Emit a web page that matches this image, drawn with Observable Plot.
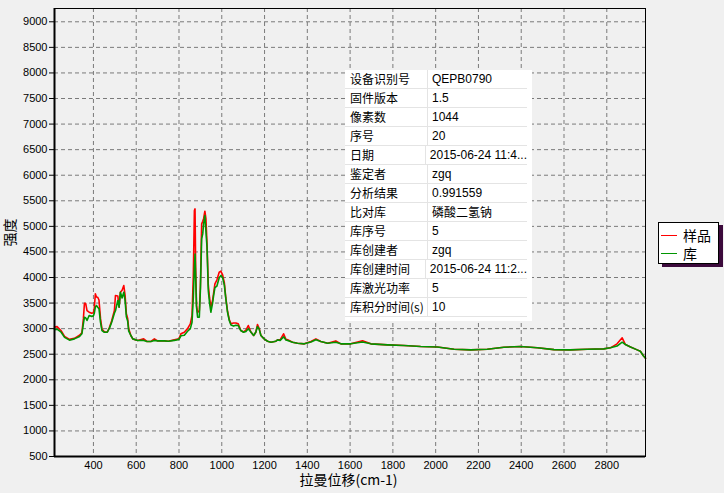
<!DOCTYPE html>
<html><head><meta charset="utf-8">
<script src="https://cdn.jsdelivr.net/npm/d3@7"></script>
<script src="https://cdn.jsdelivr.net/npm/@observablehq/plot@0.6"></script>
<style>
html,body{margin:0;padding:0;background:#f0f0f0;}
body{width:724px;height:493px;overflow:hidden;position:relative;font-family:"Liberation Sans",Arial,sans-serif;}
#chart{position:absolute;left:0;top:0;}
#info{position:absolute;left:345px;top:70px;width:187px;height:251px;background:#fff;}
#info .row{display:flex;height:19px;box-sizing:border-box;border-bottom:1px solid #e4e4e4;width:182px;}
#info .k{width:83px;box-sizing:border-box;border-right:1px solid #e4e4e4;padding-left:5px;font-family:"Noto Sans CJK SC",sans-serif;font-size:12px;line-height:18px;color:#000;white-space:nowrap;}
#info .v{padding-left:4px;font-family:"Liberation Sans","Noto Sans CJK SC",sans-serif;font-size:12px;line-height:18px;color:#000;white-space:nowrap;}
#info .v.cjk{font-family:"Noto Sans CJK SC",sans-serif;}
#legend{position:absolute;left:658px;top:222px;width:59px;height:40px;background:#fff;border:1px solid #000;box-shadow:4px 3px 0 #3c0a3c;}
#legend .it{position:absolute;left:0;height:18px;display:flex;align-items:center;}
#legend .ln{width:16px;height:1px;margin-left:2px;margin-right:6px;}
#legend .tx{font-family:"Noto Sans CJK SC",sans-serif;font-size:14px;line-height:18px;color:#000;}
</style>
</head><body>
<div id="chart"></div>
<div id="info"></div>
<div id="legend"></div>
<script>
// ---- data ----
const wavenumber = [
  218, 230, 249, 265, 288, 311, 335, 346, 353, 358,
  364, 370, 380, 392, 400, 404, 409, 414, 420, 426,
  433, 440, 451, 465, 475, 485, 498, 503, 514, 520,
  526, 534, 542, 548, 554, 560, 565, 575, 584, 607,
  635, 650, 669, 685, 700, 731, 750, 778, 800, 809,
  825, 840, 853, 861, 867, 872, 875, 878, 882, 887,
  895, 900, 906, 911, 915, 921, 926, 931, 937, 943,
  949, 957, 962, 968, 977, 988, 996, 1004, 1012, 1019,
  1027, 1035, 1043, 1055, 1066, 1077, 1089, 1102, 1113, 1124,
  1136, 1149, 1159, 1167, 1175, 1183, 1198, 1214, 1230, 1253,
  1261, 1273, 1289, 1300, 1308, 1331, 1354, 1386, 1417, 1440,
  1463, 1495, 1533, 1557, 1603, 1658, 1697, 1775, 1852, 1930,
  2008, 2086, 2164, 2241, 2319, 2397, 2475, 2553, 2630, 2708,
  2786, 2817, 2848, 2872, 2887, 2911, 2942, 2957, 2970, 2981
];
const sampleIntensity = [ // 样品 (red)
  3030, 3040, 2960, 2850, 2790, 2810, 2870, 2920, 3190, 3497,
  3490, 3354, 3322, 3300, 3310, 3400, 3680, 3620, 3614, 3560,
  3200, 2990, 2940, 2935, 3028, 3150, 3354, 3647, 3640, 3420,
  3712, 3750, 3843, 3650, 3290, 3200, 2996, 2866, 2800, 2768,
  2800, 2750, 2750, 2800, 2760, 2760, 2754, 2780, 2800, 2899,
  2930, 3000, 3094, 3257, 4038, 5309, 5342, 4200, 3450, 3320,
  3350, 3810, 5048, 5100, 5150, 5296, 5150, 4658, 3850, 3600,
  3419, 3550, 3700, 3876, 3950, 4103, 4123, 4050, 3900, 3600,
  3340, 3180, 3094, 3110, 3110, 3094, 2963, 2935, 2970, 3061,
  2935, 2866, 2930, 3081, 3000, 2866, 2800, 2754, 2735, 2754,
  2781, 2780, 2899, 2790, 2781, 2735, 2715, 2703, 2750, 2800,
  2750, 2715, 2760, 2703, 2703, 2761, 2703, 2683, 2670, 2651,
  2640, 2598, 2585, 2598, 2637, 2651, 2625, 2590, 2585, 2598,
  2605, 2625, 2703, 2820, 2690, 2640, 2585, 2559, 2475, 2420
];
const libraryIntensity = [ // 库 (green)
  2980, 2990, 2930, 2830, 2775, 2800, 2846, 2899, 3094, 3223,
  3210, 3159, 3257, 3240, 3250, 3300, 3420, 3452, 3419, 3390,
  3126, 2963, 2930, 2930, 3010, 3120, 3302, 3350, 3550, 3420,
  3712, 3600, 3712, 3550, 3230, 3150, 2950, 2866, 2800, 2768,
  2770, 2750, 2750, 2770, 2760, 2760, 2754, 2770, 2790, 2860,
  2870, 2949, 3000, 3126, 3614, 4200, 4461, 4000, 3419, 3223,
  3223, 3750, 4756, 4853, 5048, 5212, 4900, 4600, 3745, 3500,
  3321, 3500, 3650, 3800, 3830, 3994, 4038, 3994, 3850, 3583,
  3321, 3159, 3070, 3050, 3067, 3060, 2963, 2930, 2945, 3000,
  2935, 2866, 2930, 3040, 2990, 2866, 2800, 2754, 2735, 2754,
  2781, 2770, 2840, 2780, 2770, 2735, 2715, 2703, 2740, 2781,
  2750, 2715, 2735, 2703, 2703, 2740, 2703, 2683, 2670, 2651,
  2640, 2598, 2585, 2598, 2637, 2651, 2625, 2590, 2585, 2598,
  2605, 2625, 2660, 2735, 2690, 2640, 2585, 2559, 2475, 2420
];
const xTicks = [400, 600, 800, 1000, 1200, 1400, 1600, 1800, 2000, 2200, 2400, 2600, 2800];
const yTicks = [500, 1000, 1500, 2000, 2500, 3000, 3500, 4000, 4500, 5000, 5500, 6000, 6500, 7000, 7500, 8000, 8500, 9000];
const xLabel = "拉曼位移(cm-1)";
const yLabel = "强度";
const legendLabels = ["样品", "库"];
const tableKeys = ["设备识别号", "固件版本", "像素数", "序号", "日期", "鉴定者", "分析结果", "比对库", "库序号", "库创建者", "库创建时间", "库激光功率", "库积分时间(s)"];
const tableValues = ["QEPB0790", "1.5", "1044", "20", "2015-06-24 11:4...", "zgq", "0.991559", "磷酸二氢钠", "5", "zgq", "2015-06-24 11:2...", "5", "10"];

// ---- chart ----
const SAMPLE_COLOR = "#ff0000", LIB_COLOR = "#009600";
const rows = wavenumber.map((w, i) => ({w, s: sampleIntensity[i], l: libraryIntensity[i]}));

const chart = Plot.plot({
  width: 724, height: 493,
  marginLeft: 54, marginRight: 79, marginTop: 8, marginBottom: 37,
  style: {background: "transparent", fontFamily: "Liberation Sans, Arial, sans-serif", fontSize: "11px", color: "#000", overflow: "visible"},
  x: {domain: [218, 2981], ticks: xTicks, tickSize: 0, tickPadding: 5, label: null, tickFormat: d => String(d)},
  y: {domain: [500, 9260], ticks: yTicks, tickSize: 5, tickPadding: 2, label: null, tickFormat: d => String(d)},
  marks: [
    Plot.ruleX(xTicks, {stroke: "#7a7a7a", strokeDasharray: "4,3"}),
    Plot.ruleY(yTicks, {stroke: "#7a7a7a", strokeDasharray: "4,3"}),
    Plot.line(rows, {x: "w", y: "s", stroke: SAMPLE_COLOR, strokeWidth: 1.6}),
    Plot.line(rows, {x: "w", y: "l", stroke: LIB_COLOR, strokeWidth: 1.6}),
    Plot.frame({stroke: "#000", strokeWidth: 1}),
    Plot.ruleX([218], {stroke: "#000", strokeWidth: 2}),
    Plot.ruleY([500], {stroke: "#000", strokeWidth: 2}),
    Plot.text([yLabel], {text: d => d, frameAnchor: "left", textAnchor: "middle", dx: -44, rotate: -90, fontSize: 14, fontFamily: "Noto Sans CJK SC", fill: "#000"}),
    Plot.text([xLabel], {text: d => d, frameAnchor: "bottom", dx: -1.5, dy: 28, fontSize: 14, fontFamily: "Noto Sans CJK SC", fill: "#000"})
  ]
});
document.getElementById("chart").appendChild(chart);

// ---- info table ----
const info = document.getElementById("info");
tableKeys.forEach((k, i) => {
  const r = document.createElement("div"); r.className = "row";
  const a = document.createElement("div"); a.className = "k"; a.textContent = k;
  const b = document.createElement("div"); b.className = "v" + (/[\u4e00-\u9fff]/.test(tableValues[i]) ? " cjk" : ""); b.textContent = tableValues[i];
  r.appendChild(a); r.appendChild(b); info.appendChild(r);
});

// ---- legend ----
const legend = document.getElementById("legend");
[SAMPLE_COLOR, LIB_COLOR].forEach((c, i) => {
  const it = document.createElement("div"); it.className = "it"; it.style.top = (3 + i * 18) + "px";
  const ln = document.createElement("div"); ln.className = "ln"; ln.style.background = c;
  const tx = document.createElement("div"); tx.className = "tx"; tx.textContent = legendLabels[i];
  it.appendChild(ln); it.appendChild(tx); legend.appendChild(it);
});
</script>
</body></html>
